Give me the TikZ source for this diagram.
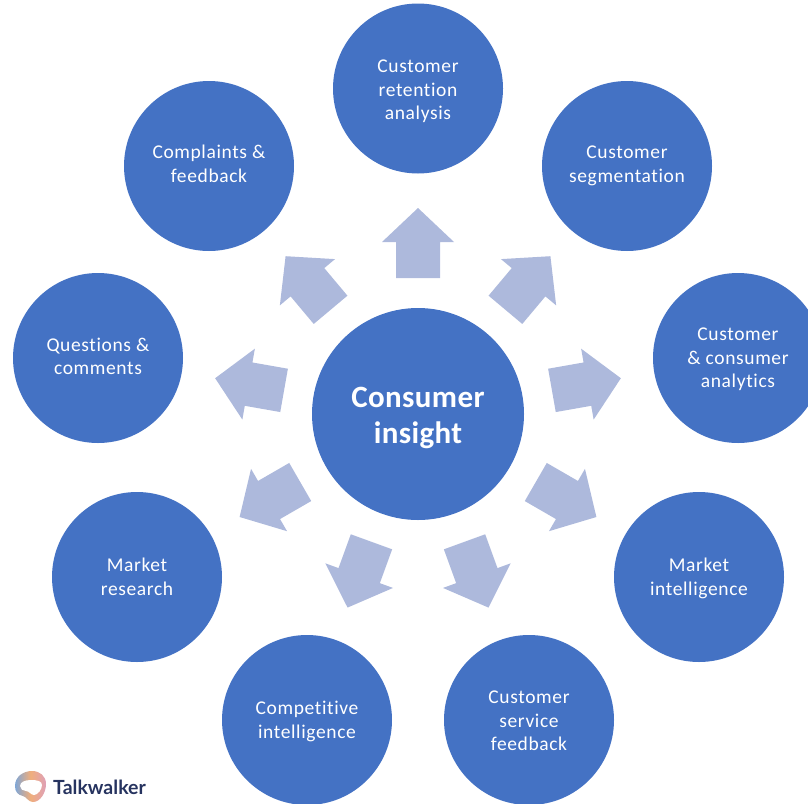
\documentclass[tikz,border=0pt]{standalone}
\usepackage{fontspec}
\setmainfont[LetterSpace=3.2,Ligatures=NoCommon]{Carlito}
\newfontfamily\hubfont[LetterSpace=1.2,Ligatures=NoCommon]{Carlito}
\newfontfamily\logofont{Lato}
\definecolor{discblue}{HTML}{4472C4}
\definecolor{arrowblue}{HTML}{ADB9DC}
\definecolor{logonavy}{HTML}{26335F}
\definecolor{logoblue}{HTML}{7FA6D6}
\definecolor{logoorange}{HTML}{F0AE7C}
\definecolor{logopink}{HTML}{DFA0B8}
\newcommand{\topgap}[1]{\rule{0pt}{#1pt}}
\newcommand{\botgap}{\rule[-5pt]{0pt}{0pt}}
\tikzset{
  disc/.style={circle,fill=discblue,minimum size=170pt,inner sep=0pt,align=center,text=white,font=\fontsize{19.5}{23.3}\selectfont},
  hub/.style={circle,fill=discblue,minimum size=212pt,inner sep=0pt,align=center,text=white,font=\hubfont\fontsize{31}{35.5}\selectfont\bfseries},
  blockarrow/.style={fill=arrowblue,draw=none}
}
\begin{document}
\begin{tikzpicture}[x=1pt,y=-1pt]
\useasboundingbox (0,0) rectangle (808,803);
\node[hub] (hub) at (418,414) {\topgap{28}Consumer\\insight};
\node[disc] (retention) at (418,88.5) {\topgap{20}Customer\\retention\\analysis\botgap};
\node[disc] (segmentation) at (627,166) {\topgap{14}Customer\\segmentation\botgap};
\node[disc] (analytics) at (738,358) {\topgap{17}Customer\\\&\ consumer\\analytics\botgap};
\node[disc] (intelligence) at (699,577) {\topgap{18}Market\\intelligence\botgap};
\node[disc] (service) at (529,720) {\topgap{19}Customer\\service\\feedback\botgap};
\node[disc] (competitive) at (307,720) {\topgap{18}Competitive\\intelligence\botgap};
\node[disc] (research) at (137,577) {\topgap{18}Market\\research\botgap};
\node[disc] (questions) at (98,358) {\topgap{15}Questions \&\\comments\botgap};
\node[disc] (complaints) at (209,166) {\topgap{14}Complaints \&\\feedback\botgap};
\foreach \ang in {90,50,10,-30,-70,-110,-150,170,130}{
  \begin{scope}[shift={(hub.center)},rotate=\ang]
    \fill[blockarrow] (136,-22) -- (172,-22) -- (172,-36) -- (206,0) -- (172,36) -- (172,22) -- (136,22) -- cycle;
  \end{scope}
}
\node[anchor=base west,inner sep=0pt,text=logonavy,font=\logofont\fontsize{19.5}{21}\selectfont\bfseries] (brand) at (53,794) {Talkwalker};
% logo: soft ring round an island-shaped white centre
\shade[left color=logoblue,right color=logopink,middle color=logoorange]
  (15,786) .. controls (15,776) and (24,771) .. (32,771) .. controls (40,771) and (46,776) .. (46,784)
  .. controls (46,793) and (40,802) .. (33,802) .. controls (28,802) and (27,797) .. (23,796)
  .. controls (18,795) and (15,792) .. cycle;
\fill[white]
  (20,786) .. controls (20,782) and (25,780) .. (31,780) .. controls (37,780) and (42,781) .. (42,785)
  .. controls (42,789) and (38,795) .. (34,795) .. controls (31,795) and (29,791) .. (26,791)
  .. controls (23,791) and (20,789) .. cycle;
\end{tikzpicture}
\end{document}
